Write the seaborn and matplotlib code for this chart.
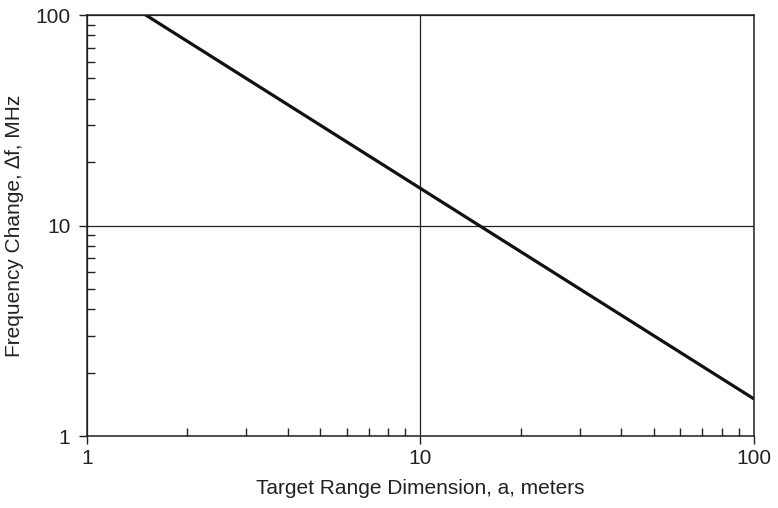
import matplotlib
matplotlib.use("Agg")
import matplotlib.pyplot as plt
import seaborn as sns
import pandas as pd
import numpy as np
from matplotlib.ticker import LogLocator, FixedLocator, NullFormatter

sns.set_style("white")
plt.rcParams['font.family'] = ['Liberation Sans', 'DejaVu Sans']

a_vals = [1.5, 100]
df_vals = [100, 1.5]
x_ticks = [1, 10, 100]
y_ticks = [1, 10, 100]
x_ticklabels = ["1", "10", "100"]
y_ticklabels = ["1", "10", "100"]

data = pd.DataFrame({"a": a_vals, "df": df_vals})

fig = plt.figure(figsize=(7.78, 5.08), dpi=100)
ax = fig.add_axes([87/778, 1-436/508, (754-87)/778, (436-15)/508])
sns.lineplot(data=data, x="a", y="df", ax=ax, color="#111111", linewidth=2.3)
ax.set_xscale("log")
ax.set_yscale("log")
ax.set_xlim(1, 100)
ax.set_ylim(1, 100)

ax.xaxis.set_major_locator(FixedLocator(x_ticks))
ax.yaxis.set_major_locator(FixedLocator(y_ticks))
ax.set_xticklabels(x_ticklabels)
ax.set_yticklabels(y_ticklabels)
ax.xaxis.set_minor_locator(LogLocator(base=10, subs=np.arange(2, 10)))
ax.yaxis.set_minor_locator(LogLocator(base=10, subs=np.arange(2, 10)))
ax.xaxis.set_minor_formatter(NullFormatter())
ax.yaxis.set_minor_formatter(NullFormatter())

ax.tick_params(which="major", direction="out", length=6, width=1, color="#222222",
               labelsize=15, labelcolor="#222222", bottom=True, left=True, top=False, right=False, pad=3)
ax.tick_params(axis="y", which="major", pad=6)
ax.tick_params(which="minor", direction="in", length=6, width=1, color="#222222",
               bottom=True, left=True, top=False, right=False)

for s in ax.spines.values():
    s.set_visible(True)
    s.set_color("#222222")
    s.set_linewidth(1.1)

ax.grid(True, which="major", color="#222222", linewidth=0.9)
ax.grid(False, which="minor")

ax.set_xlabel("Target Range Dimension, a, meters", fontsize=15, color="#222222", labelpad=8)
ax.set_ylabel("Frequency Change, \u2206f, MHz", fontsize=15, color="#222222", labelpad=8)

fig.savefig("out.png", dpi=100)
